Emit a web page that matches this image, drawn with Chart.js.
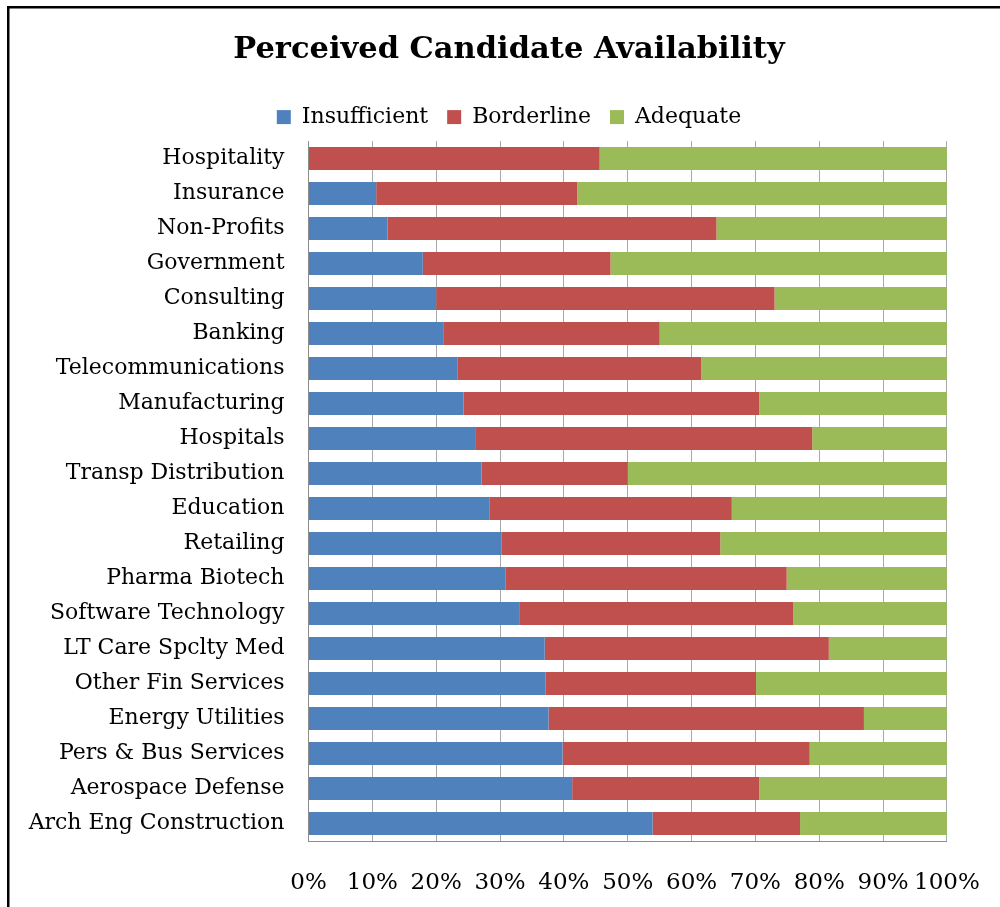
<!DOCTYPE html>
<html>
<head>
<meta charset="utf-8">
<script src="https://cdn.jsdelivr.net/npm/chart.js@4"></script>
<style>
  html, body { margin: 0; padding: 0; background: #fff; }
  #wrap { width: 1000px; height: 907px; }
</style>
</head>
<body>
<div id="wrap"><canvas id="chart" width="1000" height="907"></canvas></div>
<script>
const categories = [
    "Hospitality", "Insurance", "Non-Profits", "Government", "Consulting",
    "Banking", "Telecommunications", "Manufacturing", "Hospitals", "Transp Distribution",
    "Education", "Retailing", "Pharma Biotech", "Software Technology", "LT Care Spclty Med",
    "Other Fin Services", "Energy Utilities", "Pers & Bus Services", "Aerospace Defense", "Arch Eng Construction"];

const insufficient = [0, 10.6, 12.4, 17.9, 20.0, 21.1, 23.3, 24.3, 26.1, 27.1,
    28.4, 30.2, 30.9, 33.0, 37.0, 37.1, 37.6, 39.8, 41.3, 53.9];
const borderline = [45.6, 31.5, 51.5, 29.4, 53.0, 33.9, 38.2, 46.3, 52.8, 22.9,
    37.9, 34.3, 44.0, 42.9, 44.5, 33.0, 49.4, 38.7, 29.3, 23.1];
const adequate = [54.4, 57.9, 36.1, 52.7, 27.0, 45.0, 38.5, 29.4, 21.1, 50.0,
    33.7, 35.5, 25.1, 24.1, 18.5, 29.9, 13.0, 21.5, 29.4, 23.0];

const xTicks = [0, 10, 20, 30, 40, 50, 60, 70, 80, 90, 100];

Chart.defaults.font.family = "'DejaVu Serif', serif";
Chart.defaults.color = '#000';

// white page with the black frame (top and left edges show)
const framePlugin = {
    id: 'frame',
    beforeDraw(chart) {
        const ctx = chart.ctx;
        ctx.save();
        ctx.fillStyle = '#fff';
        ctx.fillRect(0, 0, chart.width, chart.height);
        ctx.strokeStyle = '#000';
        ctx.lineWidth = 2.5;
        ctx.beginPath();
        ctx.moveTo(8.25, chart.height + 5);
        ctx.lineTo(8.25, 7.25);
        ctx.lineTo(chart.width + 5, 7.25);
        ctx.stroke();
        ctx.restore();
    }
};

const PLOT_LEFT = 308.5;
const PLOT_BOTTOM = 841;

// negative right padding moves the title/legend centre right of the canvas middle;
// the plot's right edge comes from the "100%" overhang (label half + tick padding)
new Chart(document.getElementById('chart').getContext('2d'), {
    type: 'bar',
    data: {
        labels: categories,
        datasets: [
            {label: 'Insufficient', data: insufficient, backgroundColor: '#4F81BD'},
            {label: 'Borderline', data: borderline, backgroundColor: '#C0504D'},
            {label: 'Adequate', data: adequate, backgroundColor: '#9BBB59'}
        ]
    },
    options: {
        indexAxis: 'y',
        responsive: false,
        animation: false,
        devicePixelRatio: 1,
        categoryPercentage: 1,
        barPercentage: 0.657,
        layout: {padding: {top: 10, right: -18, bottom: 0, left: 0}},
        plugins: {
            title: {
                display: true,
                text: 'Perceived Candidate Availability',
                color: '#000',
                font: {size: 30.5, weight: 'bold'},
                padding: {top: 22, bottom: 18.5}
            },
            legend: {
                display: true,
                position: 'top',
                labels: {
                    boxWidth: 14,
                    boxHeight: 14,
                    padding: 19,
                    color: '#000',
                    font: {size: 22}
                }
            },
            tooltip: {enabled: false}
        },
        scales: {
            x: {
                stacked: true,
                min: 0,
                max: 100,
                afterBuildTicks(scale) {
                    scale.ticks = xTicks.map(v => ({value: v}));
                },
                afterFit(scale) {
                    scale.height = 907 - PLOT_BOTTOM;
                },
                grid: {
                    color: '#A9A9A9',
                    lineWidth: 1,
                    drawTicks: true,
                    tickLength: 7.8,
                    tickColor: 'rgba(0,0,0,0)'
                },
                border: {color: '#8C8C8C'},
                ticks: {
                    padding: 20.2,
                    maxRotation: 0,
                    autoSkip: false,
                    font: {size: 23},
                    callback: v => v + '%'
                }
            },
            // empty top axis, only a small gap between legend and plot
            gap: {
                type: 'linear',
                axis: 'x',
                position: 'top',
                afterFit(scale) {
                    scale.height = 3;
                },
                grid: {display: false},
                border: {display: false},
                ticks: {display: false}
            },
            y: {
                stacked: true,
                afterFit(scale) {
                    scale.width = PLOT_LEFT;
                },
                grid: {display: false, drawTicks: false},
                border: {color: '#8C8C8C'},
                ticks: {padding: 24, autoSkip: false, font: {size: 22}}
            }
        }
    },
    plugins: [framePlugin]
});
</script>
</body>
</html>
